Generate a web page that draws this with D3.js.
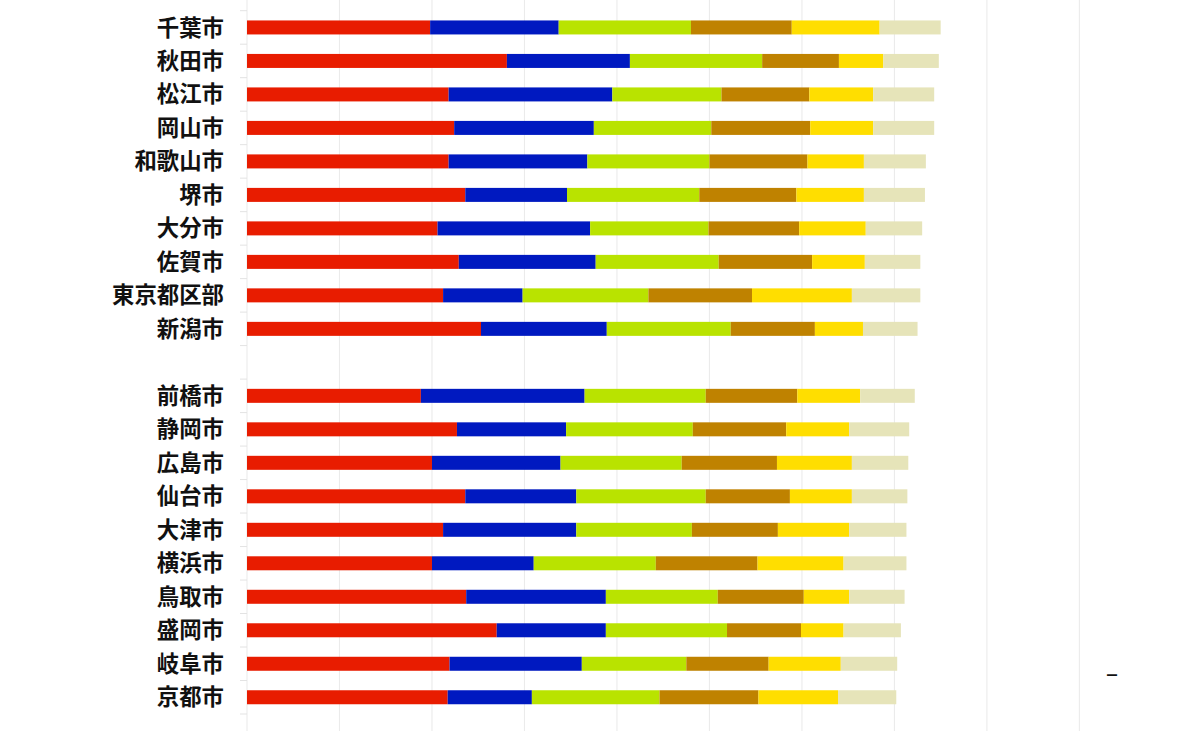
<!doctype html>
<html>
<head>
<meta charset="utf-8">
<title>都市別 積み上げ棒グラフ</title>
<script src="https://d3js.org/d3.v7.min.js"></script>
<style>
  html, body { margin: 0; padding: 0; background: #fff; }
  svg { display: block; }
</style>
</head>
<body>
<script>
    // categories, top to bottom ("" is the empty row between the two groups)
    var cities = ["千葉市", "秋田市", "松江市", "岡山市", "和歌山市", "堺市", "大分市", "佐賀市", "東京都区部", "新潟市",
                  "",
                  "前橋市", "静岡市", "広島市", "仙台市", "大津市", "横浜市", "鳥取市", "盛岡市", "岐阜市", "京都市"];

    var seriesKeys = ["s1", "s2", "s3", "s4", "s5", "s6"];
    var seriesColors = ["#e81c00", "#0019c0", "#b9e300", "#bf8200", "#ffde00", "#e6e4b9"];

    // one array per series, in the order of the city list (the empty row skipped)
    var s1 = [19.8, 28.1, 21.8, 22.4, 21.8, 23.6, 20.6, 22.9, 21.2, 25.3,
              18.8, 22.7, 20.0, 23.6, 21.2, 20.0, 23.7, 27.0, 21.9, 21.7];
    var s2 = [13.9, 13.3, 17.7, 15.1, 15.0, 11.0, 16.5, 14.8, 8.6, 13.6,
              17.7, 11.8, 13.9, 12.0, 14.4, 11.0, 15.1, 11.8, 14.3, 9.1];
    var s3 = [14.3, 14.3, 11.8, 12.7, 13.2, 14.3, 12.8, 13.3, 13.6, 13.4,
              13.1, 13.7, 13.1, 14.0, 12.5, 13.2, 12.1, 13.1, 11.3, 13.8];
    var s4 = [10.9, 8.3, 9.5, 10.7, 10.6, 10.5, 9.8, 10.1, 11.2, 9.1,
              9.9, 10.1, 10.3, 9.1, 9.3, 11.0, 9.3, 8.0, 8.9, 10.7];
    var s5 = [9.5, 4.8, 6.9, 6.8, 6.1, 7.3, 7.2, 5.7, 10.8, 5.2,
              6.8, 6.8, 8.1, 6.7, 7.7, 9.3, 4.9, 4.6, 7.8, 8.6];
    var s6 = [6.6, 6.0, 6.6, 6.6, 6.7, 6.6, 6.1, 6.0, 7.4, 5.9,
              5.9, 6.5, 6.1, 6.0, 6.2, 6.8, 6.0, 6.2, 6.1, 6.3];

    var xTicks = [0, 10, 20, 30, 40, 50, 60, 70, 80, 90];

    var width = 1200;
    var height = 731;

    // build rows for the stack
    var named = cities.filter(function(c) { return c !== ""; });
    var table = named.map(function(c, i) {
        return { city: c, s1: s1[i], s2: s2[i], s3: s3[i], s4: s4[i], s5: s5[i], s6: s6[i] };
    });

    var stacked = d3.stack().keys(seriesKeys)(table);

    var x = d3.scaleLinear()
        .domain([0, 90])
        .range([247, 1079.4]);

    var y = d3.scaleBand()
        .domain(cities.map(function(c) { return c === "" ? "gap" : c; }))
        .range([10.7, 714])
        .padding(0);

    var barH = 14;

    var color = d3.scaleOrdinal().domain(seriesKeys).range(seriesColors);

    var svg = d3.select("body")
        .append("svg")
        .attr("width", width)
        .attr("height", height);

    // vertical gridlines
    svg.append("g")
        .selectAll("line")
        .data(xTicks)
        .enter()
            .append("line")
            .attr("x1", function(d) { return x(d); })
            .attr("x2", function(d) { return x(d); })
            .attr("y1", 0)
            .attr("y2", height)
            .attr("stroke", "#ebebeb")
            .attr("stroke-width", 1.1);

    // little ticks on the left at band boundaries
    var bounds = y.domain().map(function(d) { return y(d); });
    bounds.push(y(y.domain()[y.domain().length - 1]) + y.step());
    svg.append("g")
        .selectAll("line")
        .data(bounds)
        .enter()
            .append("line")
            .attr("x1", x(0) - 7)
            .attr("x2", x(0))
            .attr("y1", function(d) { return d; })
            .attr("y2", function(d) { return d; })
            .attr("stroke", "#e3e3e3")
            .attr("stroke-width", 1);

    // stacked bars
    svg.append("g")
        .selectAll("g")
        .data(stacked)
        .enter()
            .append("g")
            .attr("fill", function(d) { return color(d.key); })
            .selectAll("rect")
            .data(function(d) { return d; })
            .enter()
                .append("rect")
                .attr("x", function(d) { return x(d[0]); })
                .attr("width", function(d) { return x(d[1]) - x(d[0]); })
                .attr("y", function(d) { return y(d.data.city) + (y.step() - barH) / 2; })
                .attr("height", barH);

    // city labels
    svg.append("g")
        .selectAll("text")
        .data(named)
        .enter()
            .append("text")
            .attr("x", 224)
            .attr("y", function(d) { return y(d) + y.step() / 2; })
            .attr("dy", "0.36em")
            .attr("text-anchor", "end")
            .attr("font-family", "'Noto Sans CJK JP', 'Noto Sans', sans-serif")
            .attr("font-weight", "bold")
            .attr("font-size", 22.4)
            .attr("fill", "#111")
            .text(function(d) { return d; });

    // stray dash on the right
    svg.append("text")
        .attr("x", 1112)
        .attr("y", 681)
        .attr("text-anchor", "middle")
        .attr("font-family", "'Noto Sans', sans-serif")
        .attr("font-size", 24)
        .attr("fill", "#111")
        .text("–");
</script>
</body>
</html>
